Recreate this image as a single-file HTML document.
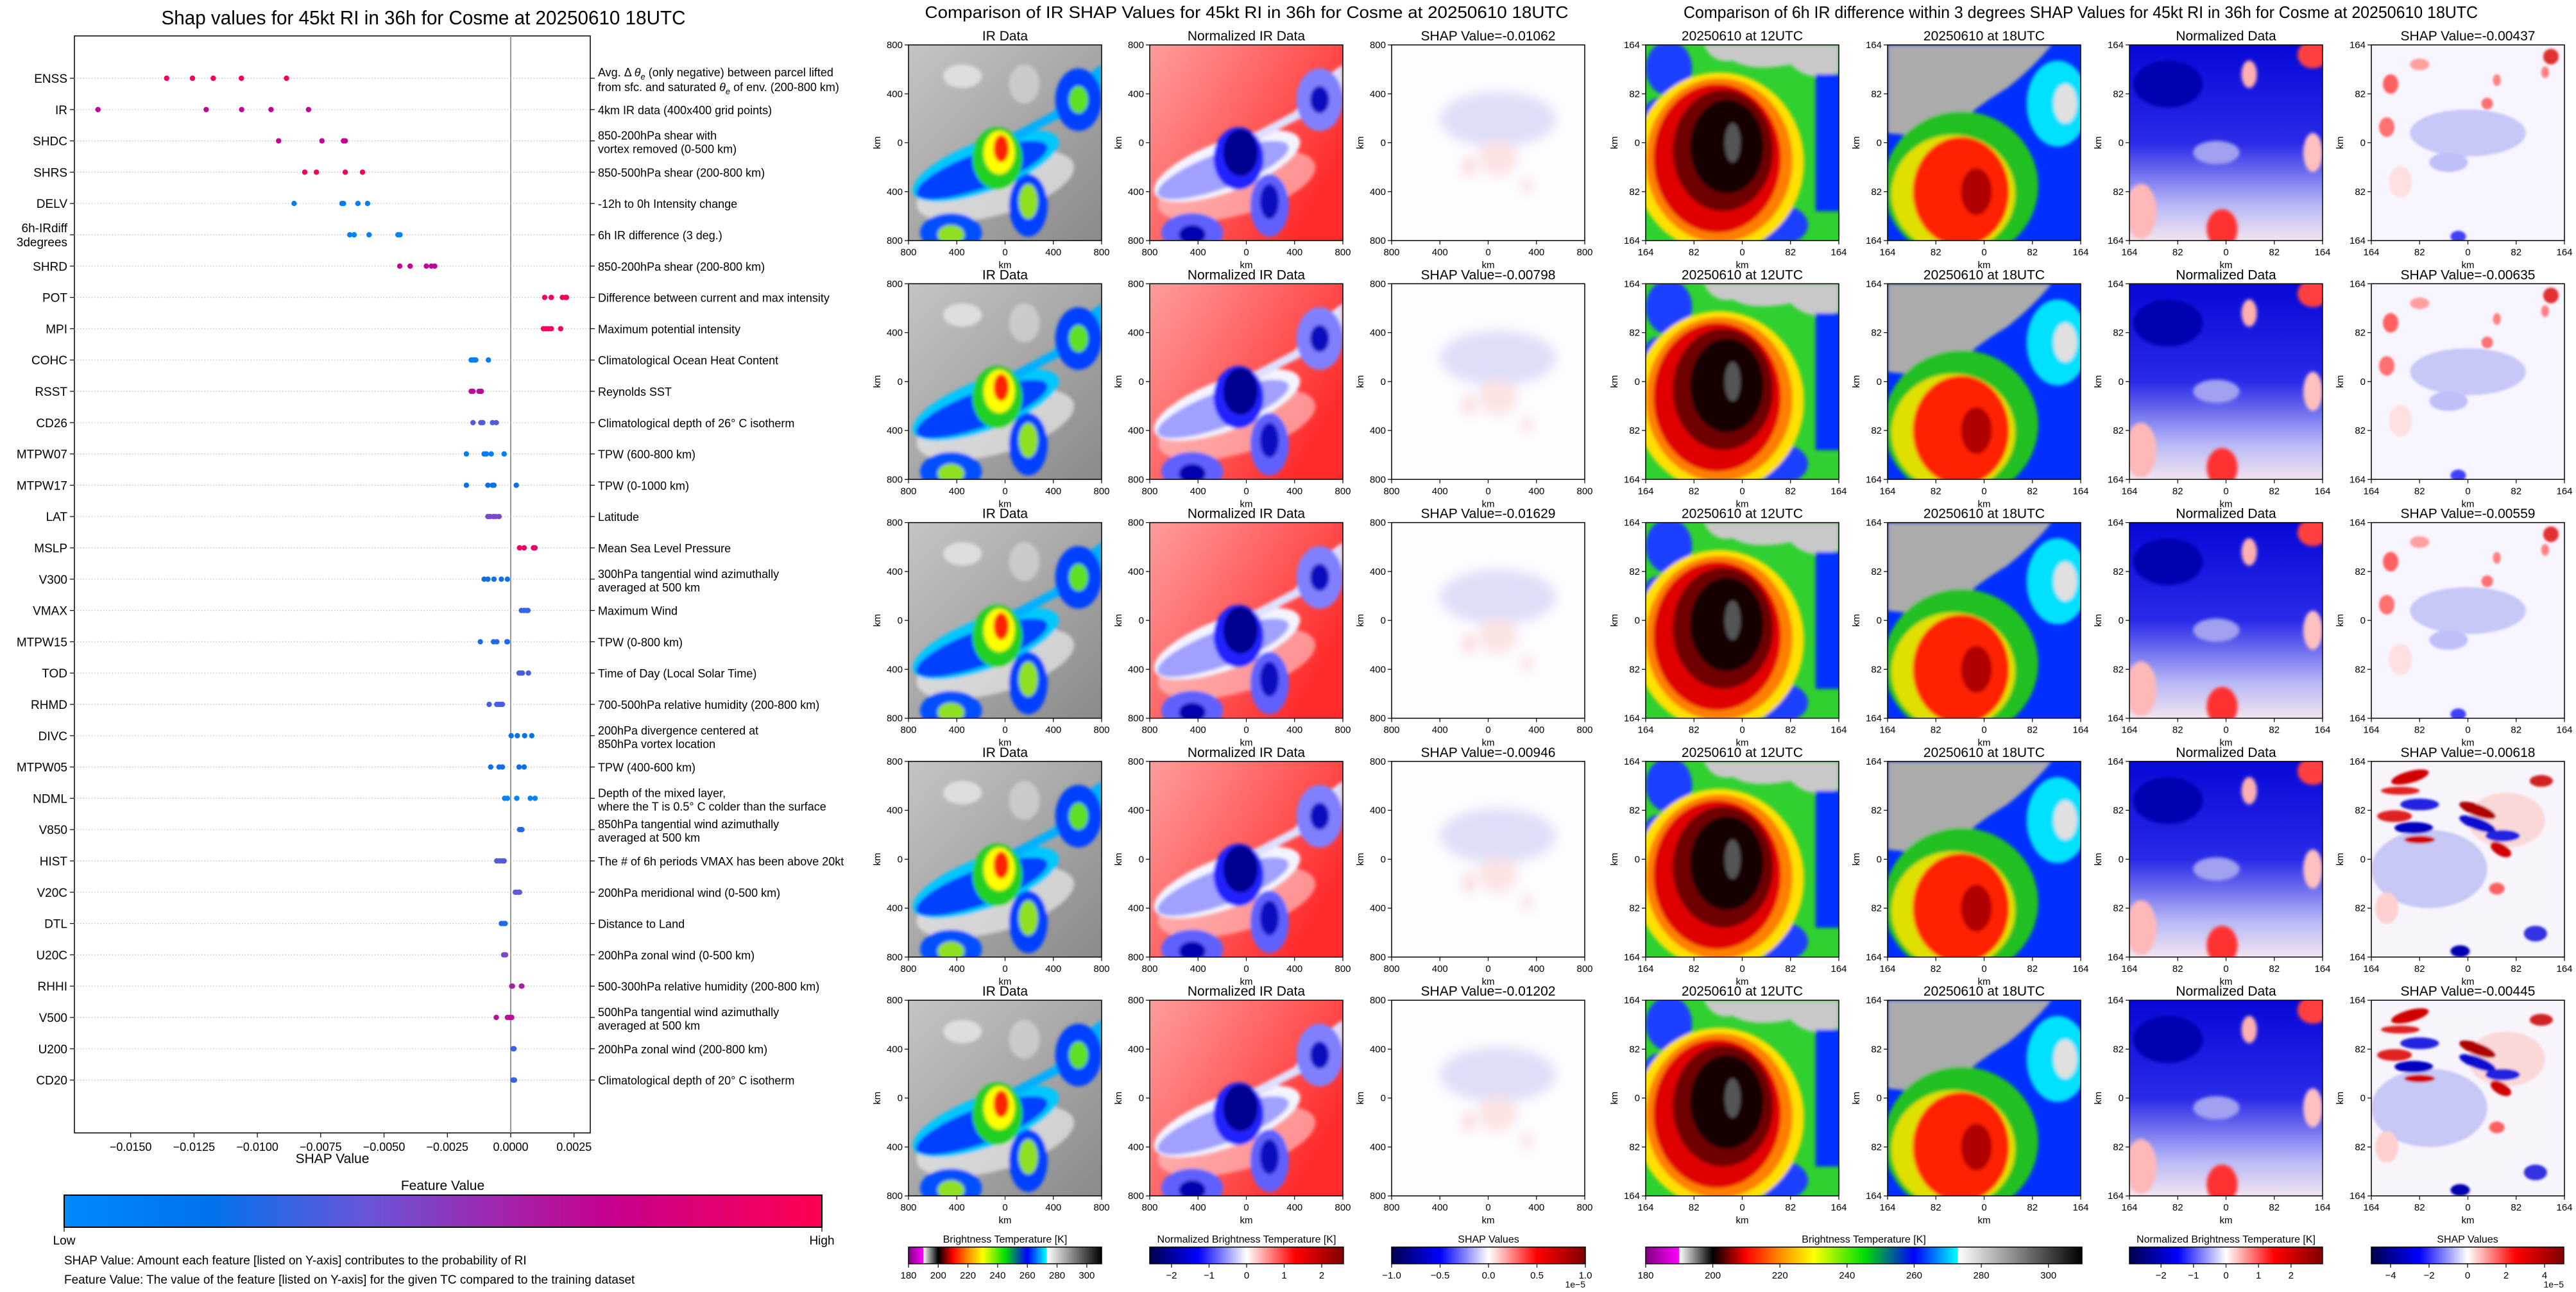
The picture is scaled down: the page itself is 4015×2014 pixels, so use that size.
<!DOCTYPE html>
<html><head><meta charset="utf-8">
<style>
html,body{margin:0;padding:0;background:#fff;overflow:hidden;}
svg text{font-family:"Liberation Sans",sans-serif;fill:#000;}
</style></head>
<body>
<svg id="root" xmlns="http://www.w3.org/2000/svg" width="4015" height="2009" viewBox="0 0 4015 2009">
<defs>
<filter id="b1" x="-20%" y="-20%" width="140%" height="140%"><feGaussianBlur stdDeviation="0.9"/></filter>
<filter id="b3" x="-20%" y="-20%" width="140%" height="140%"><feGaussianBlur stdDeviation="3"/></filter>
<filter id="b06" x="-20%" y="-20%" width="140%" height="140%"><feGaussianBlur stdDeviation="0.6"/></filter>
<linearGradient id="gShap" x1="0" x2="1" y1="0" y2="0">
<stop offset="0" stop-color="#008afb"/><stop offset="0.19" stop-color="#0073ee"/><stop offset="0.4" stop-color="#6a55d8"/><stop offset="0.6" stop-color="#a81fa6"/><stop offset="0.72" stop-color="#c6008f"/><stop offset="1" stop-color="#ff0052"/>
</linearGradient>
<linearGradient id="gBT" x1="0" x2="1" y1="0" y2="0">
<stop offset="0" stop-color="#800080"/><stop offset="0.076" stop-color="#ff00ff"/><stop offset="0.077" stop-color="#ffffff"/><stop offset="0.154" stop-color="#000000"/><stop offset="0.23" stop-color="#ff0000"/><stop offset="0.308" stop-color="#ff8c00"/><stop offset="0.385" stop-color="#ffff00"/><stop offset="0.5" stop-color="#00e000"/><stop offset="0.615" stop-color="#0000ff"/><stop offset="0.715" stop-color="#00ffff"/><stop offset="0.716" stop-color="#ffffff"/><stop offset="1" stop-color="#000000"/>
</linearGradient>
<linearGradient id="gSeis" x1="0" x2="1" y1="0" y2="0">
<stop offset="0" stop-color="#00004c"/><stop offset="0.25" stop-color="#0000ff"/><stop offset="0.5" stop-color="#ffffff"/><stop offset="0.75" stop-color="#ff0000"/><stop offset="1" stop-color="#800000"/>
</linearGradient>
<linearGradient id="gIRbg" x1="0" y1="0" x2="1" y2="1"><stop offset="0" stop-color="#c4c4c4"/><stop offset="1" stop-color="#8a8a8a"/></linearGradient>
<linearGradient id="gNbg" x1="0" y1="0" x2="1" y2="0.6"><stop offset="0" stop-color="#ff9c9c"/><stop offset="1" stop-color="#ff2a2a"/></linearGradient>
<linearGradient id="gR3" x1="0" y1="0" x2="0" y2="1"><stop offset="0" stop-color="#0808d8"/><stop offset="0.5" stop-color="#2a2ae8"/><stop offset="0.82" stop-color="#b8b8f6"/><stop offset="1" stop-color="#f2e4f0"/></linearGradient>

<symbol id="img-ir" viewBox="0 0 100 100" preserveAspectRatio="none">
<rect width="100" height="100" fill="url(#gIRbg)"/>
<g filter="url(#b1)">
<ellipse cx="28" cy="16" rx="10" ry="6" fill="#eee" opacity="0.7"/>
<ellipse cx="60" cy="20" rx="8" ry="10" fill="#ddd" opacity="0.6"/>
<ellipse cx="45" cy="72" rx="42" ry="15" fill="#fff" opacity="0.55" transform="rotate(-15 45 72)"/>
<ellipse cx="40" cy="62" rx="40" ry="13" fill="#00c8ff" transform="rotate(-20 40 62)"/>
<path d="M52 52 Q70 40 100 28 L100 10 Q85 20 75 34 Q60 42 48 48Z" fill="#00b0ff"/>
<ellipse cx="38" cy="64" rx="36" ry="9" fill="#0040ff" transform="rotate(-20 38 64)"/>
<ellipse cx="88" cy="28" rx="12" ry="16" fill="#0040ff"/>
<ellipse cx="22" cy="96" rx="16" ry="10" fill="#0050ff"/>
<ellipse cx="62" cy="82" rx="10" ry="16" fill="#0040ff"/>
<ellipse cx="46" cy="58" rx="13" ry="16" fill="#20d020"/>
<ellipse cx="88" cy="28" rx="5" ry="7" fill="#60e020"/>
<ellipse cx="62" cy="80" rx="5" ry="9" fill="#90e020"/>
<ellipse cx="22" cy="97" rx="7" ry="5" fill="#90e020"/>
<ellipse cx="47" cy="55" rx="8" ry="11" fill="#ffff00"/>
<ellipse cx="48" cy="53" rx="4" ry="7" fill="#ff2000"/>
</g>
</symbol>

<symbol id="img-norm" viewBox="0 0 100 100" preserveAspectRatio="none">
<rect width="100" height="100" fill="url(#gNbg)"/>
<g filter="url(#b1)">
<ellipse cx="45" cy="72" rx="42" ry="15" fill="#ffd0d0" opacity="0.6" transform="rotate(-15 45 72)"/>
<ellipse cx="40" cy="62" rx="40" ry="13" fill="#f4f4ff" transform="rotate(-20 40 62)"/>
<path d="M52 52 Q70 40 100 28 L100 10 Q85 20 75 34 Q60 42 48 48Z" fill="#e0e0ff"/>
<ellipse cx="38" cy="64" rx="36" ry="9" fill="#a0a0ff" transform="rotate(-20 38 64)"/>
<ellipse cx="88" cy="28" rx="12" ry="16" fill="#8080ff"/>
<ellipse cx="22" cy="96" rx="16" ry="10" fill="#6060ff"/>
<ellipse cx="62" cy="82" rx="10" ry="16" fill="#6060ff"/>
<ellipse cx="46" cy="58" rx="13" ry="16" fill="#2020ff"/>
<ellipse cx="88" cy="28" rx="5" ry="7" fill="#1010c0"/>
<ellipse cx="62" cy="80" rx="5" ry="9" fill="#1010c0"/>
<ellipse cx="22" cy="97" rx="7" ry="5" fill="#0000b0"/>
<ellipse cx="47" cy="55" rx="9" ry="12" fill="#000090"/>
</g>
</symbol>

<symbol id="img-shapm" viewBox="0 0 100 100" preserveAspectRatio="none">
<rect width="100" height="100" fill="#fdfcff"/>
<g filter="url(#b3)">
<ellipse cx="55" cy="38" rx="30" ry="14" fill="#d6d6f6" opacity="0.8"/>
<ellipse cx="55" cy="58" rx="10" ry="9" fill="#fbe2e2"/>
<ellipse cx="40" cy="62" rx="3" ry="5" fill="#f8d4d4"/>
<ellipse cx="70" cy="72" rx="2" ry="4" fill="#f8d0d0"/>
</g>
</symbol>

<symbol id="img-r1" viewBox="0 0 100 100" preserveAspectRatio="none">
<rect width="100" height="100" fill="#30d030"/>
<g filter="url(#b1)">
<path d="M30 0 H100 V14 Q85 20 75 10 Q55 14 45 8 Q35 10 30 0Z" fill="#c8c8c8"/>
<ellipse cx="12" cy="12" rx="12" ry="14" fill="#1a40ff"/>
<ellipse cx="8" cy="35" rx="9" ry="8" fill="#1a40ff"/>
<rect x="88" y="15" width="14" height="70" fill="#0030ff"/>
<ellipse cx="70" cy="92" rx="14" ry="10" fill="#1a40ff"/>
<ellipse cx="38" cy="60" rx="44" ry="46" fill="#ffe000"/>
<ellipse cx="38" cy="59" rx="38" ry="42" fill="#ff8000"/>
<ellipse cx="37" cy="58" rx="33" ry="38" fill="#e00000"/>
<ellipse cx="40" cy="54" rx="26" ry="31" fill="#700000"/>
<ellipse cx="42" cy="52" rx="19" ry="24" fill="#150000"/>
<ellipse cx="45" cy="50" rx="4" ry="10" fill="#555"/>
</g>
</symbol>

<symbol id="img-r2" viewBox="0 0 100 100" preserveAspectRatio="none">
<rect width="100" height="100" fill="#0030ff"/>
<g filter="url(#b1)">
<path d="M0 0 H85 Q75 12 62 22 Q45 32 35 42 Q20 48 0 45Z" fill="#ababab"/>
<ellipse cx="88" cy="30" rx="16" ry="22" fill="#00e0ff"/>
<ellipse cx="92" cy="30" rx="6" ry="10" fill="#e0e0e0"/>
<ellipse cx="38" cy="72" rx="40" ry="38" fill="#20c020"/>
<ellipse cx="34" cy="76" rx="32" ry="30" fill="#e0e000"/>
<ellipse cx="38" cy="75" rx="25" ry="28" fill="#ff2000"/>
<ellipse cx="46" cy="75" rx="8" ry="12" fill="#b00000"/>
</g>
</symbol>

<symbol id="img-r3" viewBox="0 0 100 100" preserveAspectRatio="none">
<rect width="100" height="100" fill="url(#gR3)"/>
<g filter="url(#b1)">
<ellipse cx="95" cy="5" rx="8" ry="7" fill="#ff4040"/>
<ellipse cx="62" cy="15" rx="4" ry="7" fill="#ffb0b0"/>
<ellipse cx="45" cy="55" rx="12" ry="6" fill="#a0a0f0"/>
<ellipse cx="48" cy="94" rx="8" ry="10" fill="#ff3030"/>
<ellipse cx="6" cy="85" rx="8" ry="14" fill="#ffb8b8"/>
<ellipse cx="95" cy="55" rx="5" ry="10" fill="#ffc0c0"/>
<ellipse cx="20" cy="20" rx="18" ry="12" fill="#0000b0"/>
</g>
</symbol>

<symbol id="img-r4" viewBox="0 0 100 100" preserveAspectRatio="none">
<rect width="100" height="100" fill="#f7f5ff"/>
<g filter="url(#b06)">
<ellipse cx="50" cy="45" rx="30" ry="12" fill="#c8c8f8"/>
<ellipse cx="10" cy="20" rx="4" ry="5" fill="#ff6060"/>
<ellipse cx="25" cy="10" rx="5" ry="3" fill="#ffa0a0"/>
<ellipse cx="93" cy="6" rx="4" ry="4" fill="#e03030"/>
<ellipse cx="90" cy="14" rx="2" ry="3" fill="#ff8080"/>
<ellipse cx="8" cy="42" rx="4" ry="5" fill="#ff7070"/>
<ellipse cx="60" cy="30" rx="3" ry="3" fill="#ff7070"/>
<ellipse cx="65" cy="18" rx="2" ry="3" fill="#ff8080"/>
<ellipse cx="40" cy="60" rx="10" ry="5" fill="#c0c0f8"/>
<ellipse cx="45" cy="98" rx="4" ry="3" fill="#4040ff"/>
<ellipse cx="15" cy="70" rx="6" ry="8" fill="#ffe0e0"/>
</g>
</symbol>

<symbol id="img-r4s" viewBox="0 0 100 100" preserveAspectRatio="none">
<rect width="100" height="100" fill="#f7f4fb"/>
<g filter="url(#b06)">
<ellipse cx="30" cy="55" rx="30" ry="20" fill="#c8c8f6"/>
<ellipse cx="70" cy="30" rx="20" ry="14" fill="#fbd8d8"/>
<ellipse cx="20" cy="8" rx="10" ry="3" fill="#d00000" transform="rotate(-15 20 8)"/>
<ellipse cx="15" cy="15" rx="10" ry="2" fill="#e02020"/>
<ellipse cx="25" cy="22" rx="10" ry="3" fill="#2020e0"/>
<ellipse cx="12" cy="28" rx="9" ry="3" fill="#e02020"/>
<ellipse cx="22" cy="34" rx="10" ry="3" fill="#0000c0"/>
<ellipse cx="25" cy="40" rx="8" ry="2" fill="#d00000"/>
<ellipse cx="55" cy="25" rx="10" ry="3" fill="#b00000" transform="rotate(20 55 25)"/>
<ellipse cx="55" cy="32" rx="10" ry="3" fill="#1010d0" transform="rotate(20 55 32)"/>
<ellipse cx="67" cy="45" rx="6" ry="3" fill="#d00000" transform="rotate(30 67 45)"/>
<ellipse cx="68" cy="38" rx="9" ry="3" fill="#2020e0"/>
<ellipse cx="88" cy="10" rx="6" ry="3" fill="#d02020"/>
<ellipse cx="85" cy="88" rx="6" ry="4" fill="#3030e0"/>
<ellipse cx="46" cy="97" rx="5" ry="3" fill="#0000b0"/>
<ellipse cx="65" cy="65" rx="4" ry="3" fill="#ff6060"/>
<ellipse cx="8" cy="75" rx="6" ry="8" fill="#ffd0d0"/>
</g>
</symbol>
</defs>
<g id="left"></g>
<g id="mid"></g>
<g id="right"></g>
</svg>
<script>
// ---------- Left chart data ----------
const features = ["ENSS","IR","SHDC","SHRS","DELV","6h-IRdiff|3degrees","SHRD","POT","MPI","COHC","RSST","CD26","MTPW07","MTPW17","LAT","MSLP","V300","VMAX","MTPW15","TOD","RHMD","DIVC","MTPW05","NDML","V850","HIST","V20C","DTL","U20C","RHHI","V500","U200","CD20"];
const descriptions = ["ENSS","4km IR data (400x400 grid points)","850-200hPa shear with|vortex removed (0-500 km)","850-500hPa shear (200-800 km)","-12h to 0h Intensity change","6h IR difference (3 deg.)","850-200hPa shear (200-800 km)","Difference between current and max intensity","Maximum potential intensity","Climatological Ocean Heat Content","Reynolds SST","Climatological depth of 26° C isotherm","TPW (600-800 km)","TPW (0-1000 km)","Latitude","Mean Sea Level Pressure","300hPa tangential wind azimuthally|averaged at 500 km","Maximum Wind","TPW (0-800 km)","Time of Day (Local Solar Time)","700-500hPa relative humidity (200-800 km)","200hPa divergence centered at|850hPa vortex location","TPW (400-600 km)","Depth of the mixed layer,|where the T is 0.5° C colder than the surface","850hPa tangential wind azimuthally|averaged at 500 km","The # of 6h periods VMAX has been above 20kt","200hPa meridional wind (0-500 km)","Distance to Land","200hPa zonal wind (0-500 km)","500-300hPa relative humidity (200-800 km)","500hPa tangential wind azimuthally|averaged at 500 km","200hPa zonal wind (200-800 km)","Climatological depth of 20° C isotherm"];
const shapValues = [
[-0.01358,-0.01256,-0.01174,-0.01063,-0.00885],
[-0.01629,-0.01202,-0.01062,-0.00946,-0.00798],
[-0.00916,-0.00745,-0.0066,-0.00653],
[-0.00813,-0.00767,-0.00653,-0.00585],
[-0.00855,-0.00666,-0.0066,-0.00603,-0.00565],
[-0.00635,-0.00618,-0.00559,-0.00445,-0.00437],
[-0.00438,-0.00397,-0.00333,-0.00313,-0.003],
[0.00134,0.0016,0.00204,0.00217,0.0022],
[0.00129,0.00138,0.00149,0.0016,0.00197],
[-0.00156,-0.00149,-0.00142,-0.00138,-0.00088],
[-0.00156,-0.00149,-0.00125,-0.00118,-0.00116],
[-0.00149,-0.00118,-0.0011,-0.00072,-0.00057],
[-0.00175,-0.00105,-0.00096,-0.00077,-0.00026],
[-0.00175,-0.0009,-0.00072,-0.00066,0.00022],
[-0.0009,-0.00081,-0.00068,-0.00059,-0.00046],
[0.00035,0.00053,0.0009,0.00092,0.00096],
[-0.00105,-0.0009,-0.00066,-0.00037,-0.00013],
[0.00042,0.00053,0.00064,0.00068],
[-0.0012,-0.00068,-0.00055,-0.00015,-0.00013],
[0.00033,0.00039,0.00046,0.0007],
[-0.00085,-0.00055,-0.00046,-0.00039,-0.00033],
[0.00002,0.00026,0.00055,0.00083],
[-0.00079,-0.00046,-0.00033,0.00033,0.00053],
[-0.00024,-0.00013,0.00024,0.00077,0.00096],
[0.00035,0.00042,0.00044],
[-0.00055,-0.00044,-0.00033,-0.00026],
[0.00018,0.00024,0.00033,0.00035],
[-0.00037,-0.00028,-0.00022],
[-0.00028,-0.00024,-0.0002],
[0.00004,0.00007,0.00042,0.00044],
[-0.00057,-0.00013,-0.00004,0,0.00004],
[0.00009,0.00011,0.00013],
[0.00009,0.00011,0.00013,0.00015]
];
const featureLevels = [0.95,0.7,0.7,0.95,0.1,0.05,0.7,0.95,0.95,0.1,0.66,0.35,0.1,0.2,0.45,0.9,0.22,0.3,0.25,0.33,0.33,0.2,0.22,0.05,0.25,0.35,0.38,0.25,0.45,0.6,0.66,0.3,0.3];
const xTicks = [-0.015,-0.0125,-0.01,-0.0075,-0.005,-0.0025,0,0.0025];
const xTickLabels = ["−0.0150","−0.0125","−0.0100","−0.0075","−0.0050","−0.0025","0.0000","0.0025"];

// panel data
const midTitles = ["IR Data","Normalized IR Data"];
const midShap = ["-0.01062","-0.00798","-0.01629","-0.00946","-0.01202"];
const rightTitles = ["20250610 at 12UTC","20250610 at 18UTC","Normalized Data"];
const rightShap = ["-0.00437","-0.00635","-0.00559","-0.00618","-0.00445"];
const midTickLabels = ["800","400","0","400","800"];
const rightTickLabels = ["164","82","0","82","164"];

const NS = "http://www.w3.org/2000/svg";
function el(tag, attrs, parent){ const e=document.createElementNS(NS,tag); for(const k in attrs) e.setAttribute(k,attrs[k]); parent.appendChild(e); return e; }
function tx(str, attrs, parent){ const e=el("text",attrs,parent); e.textContent=str; return e; }

const stops=[[0,[0,138,251]],[0.19,[0,115,238]],[0.4,[106,85,216]],[0.6,[168,31,166]],[0.72,[198,0,143]],[1,[255,0,82]]];
function cmap(t){ for(let i=1;i<stops.length;i++){ if(t<=stops[i][0]){ const a=stops[i-1],b=stops[i]; const f=(t-a[0])/(b[0]-a[0]); const c=a[1].map((v,j)=>Math.round(v+(b[1][j]-v)*f)); return "rgb("+c.join(",")+")"; } } return "rgb(255,0,82)"; }

// ---------- Left chart ----------
(function(){
const L=document.getElementById("left");
const AX={l:116,r:920,t:56,b:1766}; const X0=-0.01722, X1=0.00314;
const xs=v=>AX.l+(v-X0)/(X1-X0)*(AX.r-AX.l);
const ys=i=>122+i*48.8;
const title=tx("Shap values for 45kt RI in 36h for Cosme at 20250610 18UTC",{x:660,y:38,"text-anchor":"middle","font-size":31,textLength:817,lengthAdjust:"spacingAndGlyphs"},L);


const frame=el("rect",{x:AX.l,y:AX.t,width:AX.r-AX.l,height:AX.b-AX.t,fill:"none",stroke:"#000","stroke-width":1.5},L);


const zl=el("line",{x1:xs(0),x2:xs(0),y1:AX.t,y2:AX.b,stroke:"#999","stroke-width":2},L);


features.forEach((f,i)=>{
  const y=ys(i);
  const g=el("line",{x1:AX.l,x2:AX.r,y1:y,y2:y,stroke:"#bbb","stroke-width":1.2,"stroke-dasharray":"1.5 3"},L);
  
  
  const tl=el("line",{x1:AX.l-7,x2:AX.l,y1:y,y2:y,stroke:"#000","stroke-width":1.2},L);
  
  
  const tr=el("line",{x1:AX.r,x2:AX.r+7,y1:y,y2:y,stroke:"#000","stroke-width":1.2},L);
  
  
  const parts=f.split("|");
  parts.forEach((p,k)=>{
    const yy = parts.length===1 ? y+7 : y-4+k*22;
    const t=tx(p,{x:AX.l-11,y:yy,"text-anchor":"end","font-size":19},L);
    
    
  });
  const lines=descriptions[i].split("|");
  if(i===0){
    const t1=tx("",{x:AX.r+12,y:y-3,"font-size":18},L);
    
    
    t1.innerHTML='Avg. Δ <tspan font-style="italic">θ</tspan><tspan font-size="13" dy="5" font-style="italic">e</tspan><tspan dy="-5"> (only negative) between parcel lifted</tspan>';
    const t2=tx("",{x:AX.r+12,y:y+20,"font-size":18},L);
    
    
    t2.innerHTML='from sfc. and saturated <tspan font-style="italic">θ</tspan><tspan font-size="13" dy="5" font-style="italic">e</tspan><tspan dy="-5"> of env. (200-800 km)</tspan>';
  } else {
    lines.forEach((p,k)=>{
      const yy = lines.length===1 ? y+7 : y-2+k*21;
      const t=tx(p,{x:AX.r+12,y:yy,"font-size":18},L);
      
      
    });
  }
  shapValues[i].forEach(v=>{
    const d=el("circle",{cx:xs(v),cy:y,r:4.2,fill:cmap(featureLevels[i])},L);
    
    
  });
});
xTicks.forEach((v,i)=>{
  const t=el("line",{x1:xs(v),x2:xs(v),y1:AX.b,y2:AX.b+7,stroke:"#000","stroke-width":1.2},L);
  
  
  const lb=tx(xTickLabels[i],{x:xs(v),y:AX.b+28,"text-anchor":"middle","font-size":18},L);
  
  
});
const xl=tx("SHAP Value",{x:518,y:1813,"text-anchor":"middle","font-size":21},L);


const ct=tx("Feature Value",{x:690,y:1855,"text-anchor":"middle","font-size":21},L);


const cb=el("rect",{x:100,y:1863,width:1181,height:50,fill:"url(#gShap)",stroke:"#000","stroke-width":2},L);


[[100,"Low"],[1281,"High"]].forEach(([x,s])=>{
  const k=el("line",{x1:x,x2:x,y1:1913,y2:1920,stroke:"#000","stroke-width":1.2},L);
  
  
  const t=tx(s,{x:x,y:1940,"text-anchor":"middle","font-size":19},L);
  
  
});
const n1=tx("SHAP Value: Amount each feature [listed on Y-axis] contributes to the probability of RI",{x:100,y:1971,"font-size":19},L);


const n2=tx("Feature Value: The value of the feature [listed on Y-axis] for the given TC compared to the training dataset",{x:100,y:2001,"font-size":19},L);


})();

// ---------- Panels ----------
function panel(parent, x, top, sym, title, ticks){
  const W=301,H=305;
  const u=el("use",{href:"#"+sym,x:x,y:top,width:W,height:H},parent);
  
  
  const fr=el("rect",{x:x,y:top,width:W,height:H,fill:"none",stroke:"#000","stroke-width":1.5},parent);
  
  
  const t=tx(title,{x:x+W/2,y:top-7,"text-anchor":"middle","font-size":21},parent);
  
  
  ticks.forEach((lab,k)=>{
    const px=x+k*W/4, py=top+k*H/4;
    const a=el("line",{x1:px,x2:px,y1:top+H,y2:top+H+6,stroke:"#000","stroke-width":1.2},parent);
    
    
    const b=tx(lab,{x:px,y:top+H+23,"text-anchor":"middle","font-size":15},parent);
    
    
    const c=el("line",{x1:x-6,x2:x,y1:py,y2:py,stroke:"#000","stroke-width":1.2},parent);
    
    
    const d=tx(lab,{x:x-9,y:py+5,"text-anchor":"end","font-size":15},parent);
    
    
  });
  const xl=tx("km",{x:x+W/2,y:top+H+43,"text-anchor":"middle","font-size":15},parent);
  
  
  const yl=tx("km",{x:x-44,y:top+H/2,"text-anchor":"middle","font-size":15,transform:"rotate(-90 "+(x-44)+" "+(top+H/2)+")"},parent);
  
  
}
function cbar(parent,x,w,title,grad,vmin,vmax,ticks,labels,exp){
  const t=tx(title,{x:x+w/2,y:1937,"text-anchor":"middle","font-size":16},parent);
  
  
  const r=el("rect",{x:x,y:1944,width:w,height:26,fill:"url(#"+grad+")",stroke:"#000","stroke-width":1.5},parent);
  
  
  ticks.forEach((v,k)=>{
    const px=x+(v-vmin)/(vmax-vmin)*w;
    const a=el("line",{x1:px,x2:px,y1:1970,y2:1976,stroke:"#000","stroke-width":1.2},parent);
    
    
    const b=tx(labels[k],{x:px,y:1993,"text-anchor":"middle","font-size":15},parent);
    
    
  });
  if(exp){
    const e=tx(exp,{x:x+w,y:2007,"text-anchor":"end","font-size":14},parent);
    
    
  }
}
const rowTop=r=>70+r*372.3;

(function(){
const M=document.getElementById("mid");
const t=tx("Comparison of IR SHAP Values for 45kt RI in 36h for Cosme at 20250610 18UTC",{x:1943,y:28,"text-anchor":"middle","font-size":26,textLength:1003,lengthAdjust:"spacingAndGlyphs"},M);


const xs=[1416,1792,2169];
for(let r=0;r<5;r++){
  panel(M,xs[0],rowTop(r),"img-ir",midTitles[0],midTickLabels);
  panel(M,xs[1],rowTop(r),"img-norm",midTitles[1],midTickLabels);
  panel(M,xs[2],rowTop(r),"img-shapm","SHAP Value="+midShap[r],midTickLabels);
}
cbar(M,1416,301,"Brightness Temperature [K]","gBT",180,310,[180,200,220,240,260,280,300],["180","200","220","240","260","280","300"]);
cbar(M,1792,302,"Normalized Brightness Temperature [K]","gSeis",-2.58,2.58,[-2,-1,0,1,2],["−2","−1","0","1","2"]);
cbar(M,2169,302,"SHAP Values","gSeis",-1,1,[-1,-0.5,0,0.5,1],["−1.0","−0.5","0.0","0.5","1.0"],"1e−5");
})();

(function(){
const R=document.getElementById("right");
const t=tx("Comparison of 6h IR difference within 3 degrees SHAP Values for 45kt RI in 36h for Cosme at 20250610 18UTC",{x:3243,y:28,"text-anchor":"middle","font-size":26,textLength:1238,lengthAdjust:"spacingAndGlyphs"},R);


const xs=[2565,2942,3319,3696];
for(let r=0;r<5;r++){
  panel(R,xs[0],rowTop(r),"img-r1",rightTitles[0],rightTickLabels);
  panel(R,xs[1],rowTop(r),"img-r2",rightTitles[1],rightTickLabels);
  panel(R,xs[2],rowTop(r),"img-r3",rightTitles[2],rightTickLabels);
  panel(R,xs[3],rowTop(r),(r>=3?"img-r4s":"img-r4"),"SHAP Value="+rightShap[r],rightTickLabels);
}
cbar(R,2565,680,"Brightness Temperature [K]","gBT",180,310,[180,200,220,240,260,280,300],["180","200","220","240","260","280","300"]);
cbar(R,3319,301,"Normalized Brightness Temperature [K]","gSeis",-2.97,2.97,[-2,-1,0,1,2],["−2","−1","0","1","2"]);
cbar(R,3696,300,"SHAP Values","gSeis",-5,5,[-4,-2,0,2,4],["−4","−2","0","2","4"],"1e−5");
})();
</script>
</body></html>
